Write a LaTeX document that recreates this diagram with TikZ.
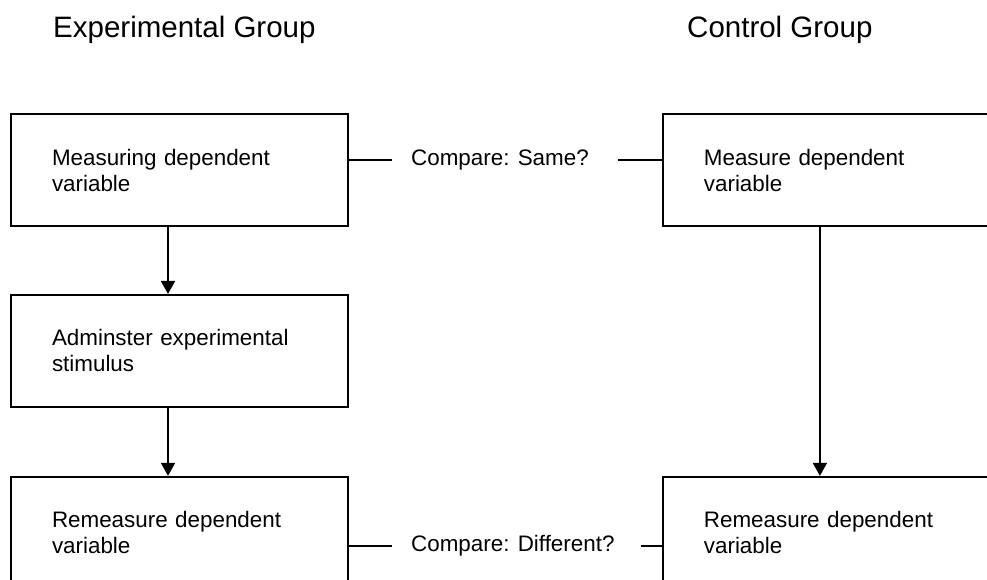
\documentclass[tikz,border=0pt]{standalone}
\usepackage{fontspec}
\setmainfont{Liberation Sans}
\usetikzlibrary{positioning, arrows.meta}

\begin{document}
\begin{tikzpicture}[x=1pt, y=1pt,
  node distance=67pt,
  box/.style={draw, line width=1.9pt, minimum width=337pt, minimum height=112pt,
    text width=255pt, inner xsep=41pt, inner ysep=0pt, align=left,
    font=\fontsize{22.4}{26}\selectfont},
  head/.style={anchor=base west, inner sep=0pt, font=\fontsize{29.5}{32}\selectfont},
  cmp/.style={inner xsep=19pt, inner ysep=0pt, font=\fontsize{22.4}{26}\selectfont},
  link/.style={line width=1.8pt},
  flow/.style={line width=1.8pt, -{Triangle[length=13pt,width=14pt]}}]

  \useasboundingbox (0,0) rectangle (987,-580);
  \clip (0,0) rectangle (987,-580);

  \node[head] (exphead) at (53,-38) {Experimental Group};
  \node[head] (ctrlhead) at (687,-38) {Control Group};

  % experimental group
  \node[box] (expmeas) at (179.5,-170) {Measuring dependent\\variable};
  \node[box, below=of expmeas] (stim) {Adminster experimental\\stimulus};
  \node[box, below=68pt of stim] (expremeas) {Remeasure dependent\\variable};

  % control group
  \node[box, right=313pt of expmeas] (ctrlmeas) {Measure dependent\\variable};
  \node[box, right=313pt of expremeas] (ctrlremeas) {Remeasure dependent\\variable};

  \draw[flow] ([xshift=-11.5pt]expmeas.south) -- ([xshift=-11.5pt]stim.north);
  \draw[flow] ([xshift=-11.5pt]stim.south) -- ([xshift=-11.5pt]expremeas.north);
  \draw[flow] ([xshift=-11.5pt]ctrlmeas.south) -- ([xshift=-11.5pt]ctrlremeas.north);

  % comparisons
  \node[cmp, right=43pt of expmeas.east, yshift=10pt] (same) {Compare: Same?};
  \node[cmp, right=43pt of expremeas.east, yshift=-13pt] (diff) {Compare: Different?};

  \draw[link] (same.west -| expmeas.east) -- (same.west);
  \draw[link] ([xshift=10pt]same.east) -- (same.east -| ctrlmeas.west);
  \draw[link] (diff.west -| expremeas.east) -- (diff.west);
  \draw[link] ([xshift=7pt]diff.east) -- (diff.east -| ctrlremeas.west);
\end{tikzpicture}
\end{document}
